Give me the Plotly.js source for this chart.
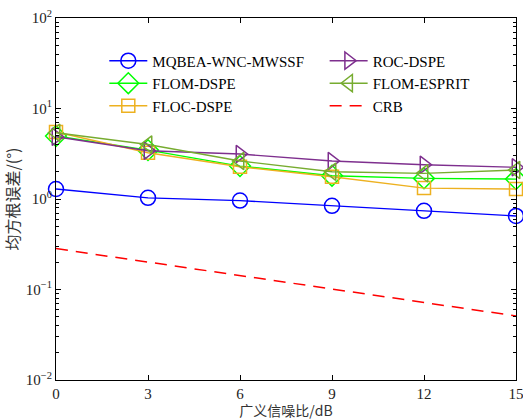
<!DOCTYPE html>
<html>
<head>
<meta charset="utf-8">
<script src="https://cdn.plot.ly/plotly-3.0.1.min.js"></script>
<style>html,body{margin:0;padding:0;background:#fff}#chart{width:523px;height:420px}</style>
</head>
<body>
<div id="chart"></div>
<script>
const snr = [0, 3, 6, 9, 12, 15];
const mqbea = [1.29, 1.03, 0.96, 0.84, 0.74, 0.65];
const flomDspe = [4.96, 3.47, 2.31, 1.81, 1.69, 1.66];
const flocDspe = [5.5, 3.24, 2.27, 1.76, 1.32, 1.29];
const rocDspe = [4.87, 3.41, 3.14, 2.63, 2.39, 2.24];
const flomEsprit = [5.4, 4.0, 2.63, 2.0, 1.92, 2.09];
const crb = [0.283, 0.201, 0.143, 0.101, 0.072, 0.051];
const yTickVals = [0.01, 0.1, 1, 10, 100];
const yTickText = ['10<sup>−2</sup>', '10<sup>−1</sup>', '10<sup>0</sup>', '10<sup>1</sup>', '10<sup>2</sup>'];
const xTickVals = [0, 3, 6, 9, 12, 15];

const serif = 'Liberation Serif';
const cjk = 'Noto Sans CJK SC';
function tr(name, y, color, symbol, size, legend) {
  return {
    x: snr, y: y, name: name, type: 'scatter', mode: 'lines+markers',
    line: {color: color, width: 1.4},
    marker: {symbol: symbol, size: size, color: color, line: {color: color, width: 1.5}},
    legend: legend, cliponaxis: false
  };
}
const data = [
  tr('MQBEA-WNC-MWSSF', mqbea, '#0000FF', 'circle-open', 15, 'legend'),
  tr('FLOM-DSPE', flomDspe, '#00FF00', 'diamond-open', 16, 'legend'),
  tr('FLOC-DSPE', flocDspe, '#EDB120', 'square-open', 13, 'legend'),
  tr('ROC-DSPE', rocDspe, '#7E2F8E', 'triangle-right-open', 15, 'legend2'),
  tr('FLOM-ESPRIT', flomEsprit, '#77AC30', 'triangle-left-open', 15, 'legend2'),
  {x: snr, y: crb, name: 'CRB', type: 'scatter', mode: 'lines',
   line: {color: '#FF0000', width: 1.5, dash: '12px,8px'}, legend: 'legend2'}
];
const legendBase = {
  font: {family: serif, size: 15, color: '#000'},
  bgcolor: 'rgba(0,0,0,0)', borderwidth: 0, xanchor: 'left', yanchor: 'top',
  tracegroupgap: 0, itemwidth: 38
};
const layout = {
  width: 523, height: 420,
  margin: {l: 56, r: 7, t: 18, b: 40},
  paper_bgcolor: '#fff', plot_bgcolor: '#fff',
  font: {family: serif, size: 15, color: '#222'},
  showlegend: true,
  legend: Object.assign({}, legendBase, {x: 0.105, y: 0.927}),
  legend2: Object.assign({}, legendBase, {x: 0.584, y: 0.927}),
  xaxis: {
    range: [0, 15], tickmode: 'array', tickvals: xTickVals, ticklabeloverflow: 'allow',
    tickfont: {family: serif, size: 15, color: '#222'},
    ticks: 'inside', ticklen: 5, tickcolor: '#000',
    showline: true, linecolor: '#000', linewidth: 1, mirror: 'ticks', showgrid: false, zeroline: false,
    title: {text: '广义信噪比/dB', font: {family: cjk, size: 14, color: '#333'}, standoff: 5}
  },
  yaxis: {
    type: 'log', range: [-2, 2], tickmode: 'array', tickvals: yTickVals, ticktext: yTickText,
    tickfont: {family: serif, size: 15, color: '#222'},
    ticks: 'inside', ticklen: 5, tickcolor: '#000',
    minor: {ticks: 'inside', ticklen: 3, tickcolor: '#000', dtick: 'D1'},
    showline: true, linecolor: '#000', linewidth: 1, mirror: 'ticks', showgrid: false, zeroline: false,
    title: {text: '均方根误差/(°)', font: {family: cjk, size: 16, color: '#333'}, standoff: 2}
  }
};
Plotly.newPlot('chart', data, layout, {displayModeBar: false, staticPlot: true});
</script>
</body>
</html>
